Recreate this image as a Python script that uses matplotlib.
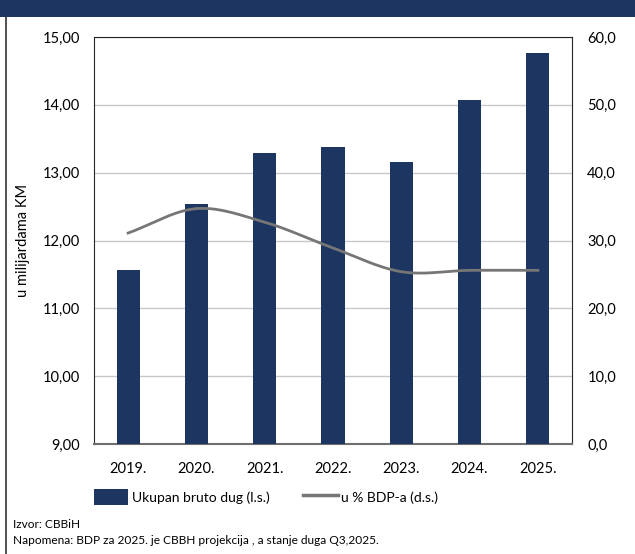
import numpy as np
import matplotlib
matplotlib.use("Agg")
import matplotlib.pyplot as plt
from matplotlib.patches import Rectangle
from matplotlib.lines import Line2D

plt.rcParams['font.family'] = ['Lato', 'DejaVu Sans']

years = ['2019.', '2020.', '2021.', '2022.', '2023.', '2024.', '2025.']
debt = [11.56, 12.54, 13.29, 13.38, 13.16, 14.07, 14.76]
pct_gdp = [31.1, 34.7, 32.7, 28.9, 25.4, 25.6, 25.6]
left_ticks = [9, 10, 11, 12, 13, 14, 15]
right_ticks = [0, 10, 20, 30, 40, 50, 60]

navy = '#1c3661'
grey_line = '#767676'


def catmull_rom(x, y, n=30):
    # smooth the line like excel does, drawing only
    x = np.asarray(x, float)
    y = np.asarray(y, float)
    px = np.concatenate([[2 * x[0] - x[1]], x, [2 * x[-1] - x[-2]]])
    py = np.concatenate([[2 * y[0] - y[1]], y, [2 * y[-1] - y[-2]]])
    xs, ys = [], []
    t = np.linspace(0, 1, n)
    for i in range(1, len(px) - 2):
        for p, out in ((px, xs), (py, ys)):
            p0, p1, p2, p3 = p[i - 1], p[i], p[i + 1], p[i + 2]
            out.extend(0.5 * (2 * p1 + (-p0 + p2) * t
                              + (2 * p0 - 5 * p1 + 4 * p2 - p3) * t ** 2
                              + (-p0 + 3 * p1 - 3 * p2 + p3) * t ** 3))
    return xs, ys


fig = plt.figure(figsize=(6.35, 5.54), dpi=100)

# header band and left border
fig.patches.append(Rectangle((0, 1 - 17 / 554), 1, 17 / 554, transform=fig.transFigure,
                             facecolor=navy, edgecolor='none', zorder=0))
fig.lines.append(Line2D([6 / 635, 6 / 635], [0, 1 - 17 / 554], transform=fig.transFigure,
                        color='#333333', lw=1.2))

ax = fig.add_axes([94 / 635, 1 - 444 / 554, (572 - 94) / 635, (444 - 37) / 554])
x = np.arange(len(years))
ax.bar(x, debt, width=0.34, color=navy, zorder=3)
ax.set_ylim(9, 15)
ax.set_xlim(-0.5, len(years) - 0.5)
ax.set_yticks(left_ticks)
ax.set_yticklabels([f'{v:.2f}'.replace('.', ',') for v in left_ticks], fontsize=10.5)
ax.set_xticks(x)
ax.set_xticklabels(years, fontsize=10.5)
ax.tick_params(length=0, pad=10)
ax.tick_params(axis='x', pad=13)
ax.grid(axis='y', color='#c8c8c8', lw=1, zorder=0)
ax.set_ylabel('u milijardama KM', fontsize=10.5)
ax.yaxis.set_label_coords((30 - 94) / 478, 0.5)
for s in ['left', 'top', 'right']:
    ax.spines[s].set_color('#262626')
ax.spines['bottom'].set_color('#6e6e6e')
ax.spines['bottom'].set_linewidth(1.5)

ax2 = ax.twinx()
sx, sy = catmull_rom(x, pct_gdp)
ax2.plot(sx, sy, color=grey_line, lw=2, zorder=4)
ax2.set_ylim(0, 60)
ax2.set_yticks(right_ticks)
ax2.set_yticklabels([f'{v:.1f}'.replace('.', ',') for v in right_ticks], fontsize=10.5)
ax2.tick_params(length=0, pad=11)
for s in ax2.spines.values():
    s.set_visible(False)

handles = [Rectangle((0, 0), 1, 1, facecolor=navy),
           Line2D([0], [0], color=grey_line, lw=2.5)]
fig.legend(handles, ['Ukupan bruto dug (l.s.)', 'u % BDP-a (d.s.)'],
           loc='center', bbox_to_anchor=(266 / 635, 1 - 497 / 554), ncol=2,
           frameon=False, fontsize=10, handlelength=2.5, handleheight=1.5,
           columnspacing=2.4, handletextpad=0.25)

fig.text(13 / 635, 1 - 524 / 554, 'Izvor: CBBiH', fontsize=8.6, va='center')
fig.text(13 / 635, 1 - 541 / 554,
         'Napomena: BDP za 2025. je CBBH projekcija , a stanje duga Q3,2025.',
         fontsize=8.6, va='center')

fig.savefig('out.png', dpi=100)
